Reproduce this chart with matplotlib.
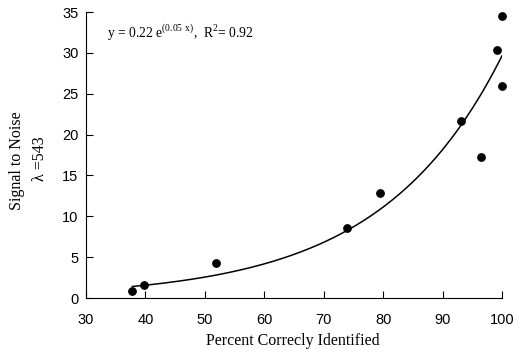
import numpy as np
import matplotlib
matplotlib.use("Agg")
import matplotlib.pyplot as plt

plt.rcParams['font.family'] = ['Liberation Serif', 'DejaVu Serif']
plt.rcParams['mathtext.fontset'] = 'custom'
plt.rcParams['mathtext.rm'] = 'Liberation Serif'

percent = [37.8, 39.8, 51.9, 73.9, 79.4, 93.1, 96.5, 99.1, 100.0, 100.0]
snr = [0.9, 1.65, 4.3, 8.6, 12.9, 21.7, 17.3, 30.3, 34.5, 25.9]
xticks = [30, 40, 50, 60, 70, 80, 90, 100]
yticks = [0, 5, 10, 15, 20, 25, 30, 35]

W, H = 529, 352
fig = plt.figure(figsize=(W/100, H/100), dpi=100)
ax = fig.add_axes([86/W, 1-298/H, 416/W, 286/H])

# exponential trendline fitted to the data (log-linear least squares)
b, lna = np.polyfit(percent, np.log(snr), 1)
xx = np.linspace(min(percent), max(percent), 200)
ax.plot(xx, np.exp(lna) * np.exp(b * xx), color='black', lw=1.1)

ax.scatter(percent, snr, s=28, color='black', zorder=3, clip_on=False)

ax.set_xlim(30, 100)
ax.set_ylim(0, 35)
ax.set_xticks(xticks)
ax.set_yticks(yticks)
for s in ['top', 'right']:
    ax.spines[s].set_visible(False)
for s in ['left', 'bottom']:
    ax.spines[s].set_linewidth(0.8)
ax.tick_params(direction='in', length=5, width=0.8, labelsize=10.5)
ax.tick_params(axis='x', pad=11)
ax.tick_params(axis='y', pad=5.5)
for lab in ax.get_xticklabels() + ax.get_yticklabels():
    lab.set_family(['Liberation Sans', 'DejaVu Sans'])

fig.text(292.5/W, 1-341/H, 'Percent Correcly Identified', fontsize=11.5,
         ha='center', va='center')
fig.text(17/W, 1-161/H, 'Signal to Noise', fontsize=11.5, rotation=90,
         ha='center', va='center')
fig.text(40/W, 1-159/H, 'λ =543', fontsize=11.5, rotation=90,
         ha='center', va='center')

ax.text(33.5, 32.4, r'y = 0.22 e$^{\mathrm{(0.05\ x)}}$,  R$^{\mathrm{2}}$= 0.92',
        fontsize=9.8, ha='left', va='center')

fig.savefig('out.png', dpi=100)
